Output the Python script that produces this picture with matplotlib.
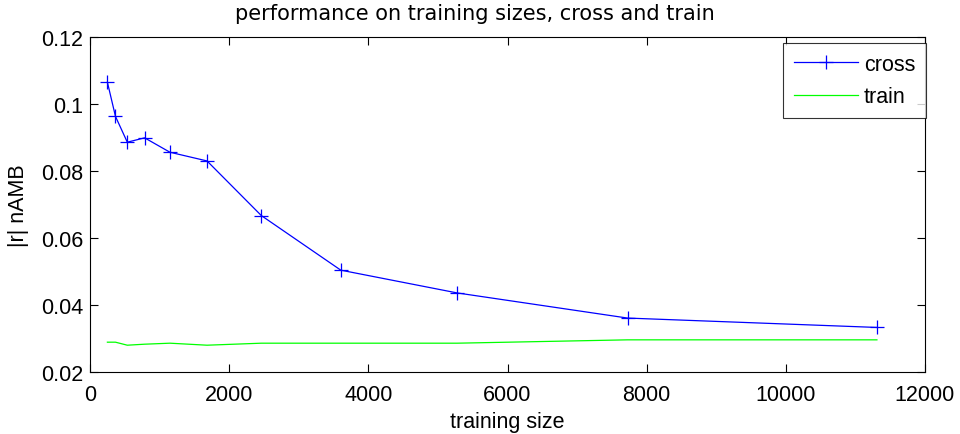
import matplotlib
matplotlib.use("Agg")
import matplotlib.pyplot as plt

# training-set sizes and normalized |r| nAMB scores
train_size = [250, 366, 536, 785, 1149, 1682, 2462, 3604, 5277, 7725, 11309]
cross_err = [0.1065, 0.0963, 0.0886, 0.0899, 0.0856, 0.0830, 0.0667, 0.0504, 0.0436, 0.0361, 0.0333]
train_err = [0.0289, 0.0289, 0.0280, 0.0283, 0.0286, 0.0280, 0.0286, 0.0286, 0.0286, 0.0296, 0.0296]

x_ticks = [0, 2000, 4000, 6000, 8000, 10000, 12000]
y_ticks = [0.02, 0.04, 0.06, 0.08, 0.1, 0.12]
y_tick_labels = ["0.02", "0.04", "0.06", "0.08", "0.1", "0.12"]

plt.rcParams["font.family"] = ["Liberation Sans", "DejaVu Sans"]
FS = 15.5

fig = plt.figure(figsize=(9.6, 4.35), dpi=100)
ax = fig.add_axes([90 / 960, 62 / 435, 835 / 960, 335 / 435])

ax.plot(train_size, cross_err, color=(0, 0, 1), lw=0.9, marker="+",
        markersize=10, markeredgewidth=0.9, label="cross")
ax.plot(train_size, train_err, color=(0, 1, 0), lw=0.9, label="train")

ax.set_xlim(0, 12000)
ax.set_ylim(0.02, 0.12)
ax.set_xticks(x_ticks)
ax.set_xticklabels([str(t) for t in x_ticks])
ax.set_yticks(y_ticks)
ax.set_yticklabels(y_tick_labels)
ax.tick_params(direction="in", length=6, width=0.8, labelsize=FS,
               top=True, right=True)
ax.tick_params(axis="x", pad=9)
ax.tick_params(axis="y", pad=5)
for s in ax.spines.values():
    s.set_linewidth(0.8)

ax.set_xlabel("training size", fontsize=FS)
ax.xaxis.set_label_coords(0.5, -0.116)
ax.set_ylabel("|r| nAMB", fontsize=FS)
ax.yaxis.set_label_coords(-0.0725, 0.5)
ax.set_title("performance on training sizes, cross and train",
             fontsize=15, family="DejaVu Sans", x=0.461, pad=12.6)

leg = ax.legend(loc="upper right", bbox_to_anchor=(926 / 960, 391 / 435),
                bbox_transform=fig.transFigure, fontsize=FS, frameon=True,
                fancybox=False, edgecolor="black", borderaxespad=0,
                handlelength=3.0, borderpad=0.5, labelspacing=0.53,
                handletextpad=0.25)
leg.get_frame().set_linewidth(0.8)

fig.savefig("out.png", dpi=100, facecolor="white")
